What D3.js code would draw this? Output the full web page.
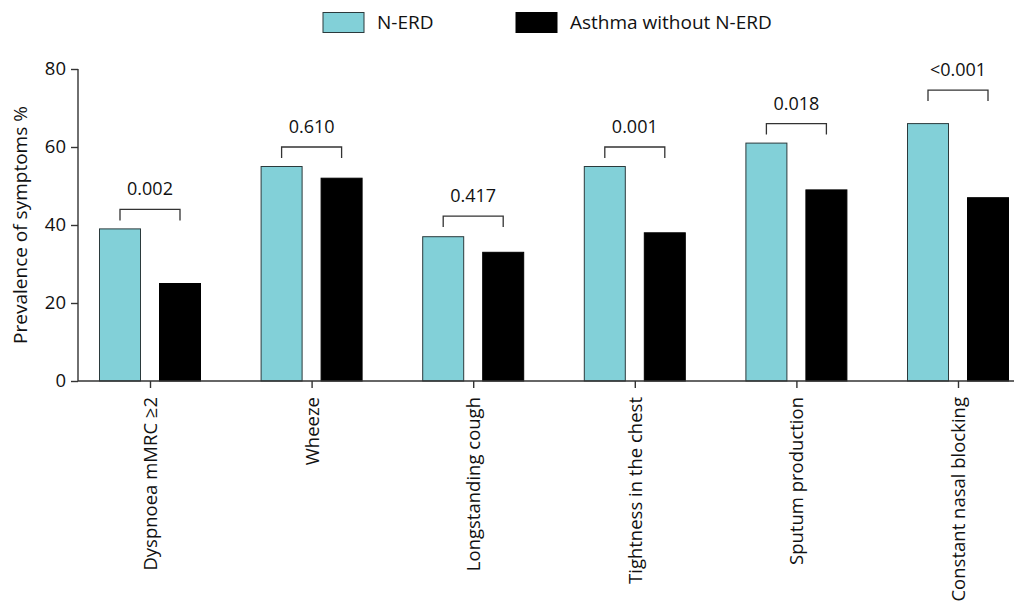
<!DOCTYPE html>
<html>
<head>
<meta charset="utf-8">
<script src="https://cdn.jsdelivr.net/npm/d3@7/dist/d3.min.js"></script>
<style>
  html, body { margin: 0; padding: 0; background: #fff; }
  svg { display: block; font-family: "Open Sans", "Noto Sans", sans-serif; }
</style>
</head>
<body>
<svg id="chart" width="1017" height="610"></svg>
<script>
const categories = ["Dyspnoea mMRC \u22652", "Wheeze", "Longstanding cough", "Tightness in the chest", "Sputum production", "Constant nasal blocking"];
const seriesNames = ["N-ERD", "Asthma without N-ERD"];
const nerdValues = [39, 55, 37, 55, 61, 66];
const asthmaValues = [25, 52, 33, 38, 49, 47];
const pValues = ["0.002", "0.610", "0.417", "0.001", "0.018", "<0.001"];
const bracketLevels = [44, 60, 42.3, 60, 66, 74.6];
const yTicks = [0, 20, 40, 60, 80];

const colors = ["#82d0d8", "#000000"];
const svg = d3.select("#chart");

const y = d3.scaleLinear().domain([0, 80]).range([381, 69]);
const x = d3.scalePoint().domain(categories).range([150, 958]);
const sub = d3.scaleBand().domain(seriesNames).range([-50.5, 50.5]).paddingInner(0.3167).paddingOuter(0);

const rows = categories.map((c, i) => ({ c, vals: [nerdValues[i], asthmaValues[i]], p: pValues[i], b: bracketLevels[i] }));

// bars
const g = svg.append("g");
rows.forEach(r => {
  seriesNames.forEach((s, j) => {
    g.append("rect")
      .attr("x", x(r.c) + sub(s))
      .attr("y", y(r.vals[j]))
      .attr("width", sub.bandwidth())
      .attr("height", y(0) - y(r.vals[j]))
      .attr("fill", colors[j])
      .attr("stroke", j === 0 ? "#2b3a3c" : "#000")
      .attr("stroke-width", 1);
  });
});

// brackets
rows.forEach(r => {
  const x1 = x(r.c) + sub(seriesNames[0]) + sub.bandwidth() / 2;
  const x2 = x(r.c) + sub(seriesNames[1]) + sub.bandwidth() / 2;
  const yTop = y(r.b);
  const yBot = yTop + 11;
  svg.append("path")
    .attr("d", `M${x1},${yBot}V${yTop}H${x2}V${yBot}`)
    .attr("fill", "none").attr("stroke", "#333").attr("stroke-width", 1.3);
  svg.append("text")
    .attr("x", (x1 + x2) / 2).attr("y", yTop - 14)
    .attr("text-anchor", "middle").attr("font-size", 18).attr("fill", "#111")
    .text(r.p);
});

// y axis
const yAxis = svg.append("g").attr("transform", "translate(78,0)")
  .call(d3.axisLeft(y).tickValues(yTicks).tickSize(7).tickPadding(5));
yAxis.select(".domain").attr("stroke", "#333").attr("stroke-width", 1.4).attr("d", `M0,${y(80)}V${y(0)}`);
yAxis.selectAll(".tick line").attr("stroke", "#333").attr("stroke-width", 1.4);
yAxis.selectAll(".tick text").attr("font-size", 18.5).attr("fill", "#111").attr("font-family", "Open Sans, sans-serif");

// x axis
const xAxis = svg.append("g").attr("transform", `translate(0,${y(0)})`)
  .call(d3.axisBottom(x).tickSize(7).tickPadding(9));
xAxis.select(".domain").attr("d", `M78,0H1014`).attr("stroke", "#333").attr("stroke-width", 1.4);
xAxis.selectAll(".tick line").attr("stroke", "#333").attr("stroke-width", 1.4);
xAxis.selectAll(".tick text")
  .attr("font-size", 18.5).attr("fill", "#111").attr("font-family", "Open Sans, sans-serif")
  .attr("text-anchor", "end")
  .attr("transform", "rotate(-90)")
  .attr("x", -16).attr("y", 0).attr("dy", "0.35em");

// y label
svg.append("text")
  .attr("transform", `translate(27,${(y(0) + y(80)) / 2}) rotate(-90)`)
  .attr("text-anchor", "middle").attr("font-size", 19).attr("fill", "#111")
  .text("Prevalence of symptoms %");

// legend
const legendX = [323, 516];
seriesNames.forEach((s, j) => {
  svg.append("rect").attr("x", legendX[j]).attr("y", 12.5).attr("width", 41).attr("height", 20)
    .attr("fill", colors[j]).attr("stroke", j === 0 ? "#2b3a3c" : "#000").attr("stroke-width", 1);
  svg.append("text").attr("x", legendX[j] + 54).attr("y", 29)
    .attr("font-size", 19).attr("fill", "#111").text(s);
});
</script>
</body>
</html>
